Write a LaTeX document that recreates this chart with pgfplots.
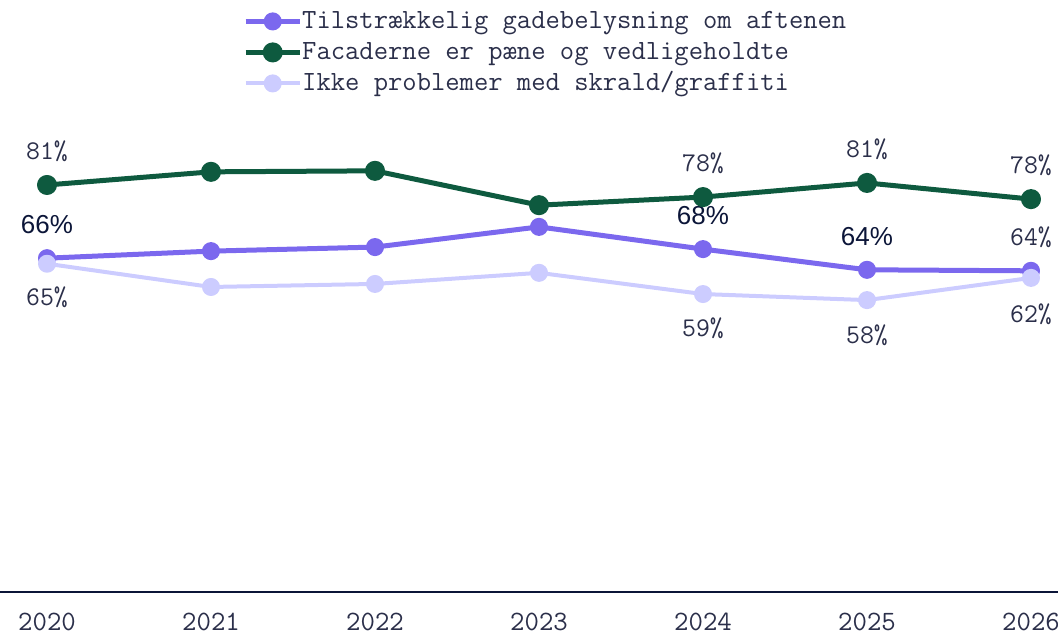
\documentclass[border=0pt]{standalone}
\usepackage{fontspec}
\usepackage{pgfplots}
\pgfplotsset{compat=1.18}
\newfontfamily\sansfont{Liberation Sans}
\definecolor{cpurple}{HTML}{7B68EE}
\definecolor{cgreen}{HTML}{0E5A3F}
\definecolor{clight}{HTML}{CCCCFF}
\definecolor{ctext}{HTML}{2B2F4A}
\definecolor{cnavy}{HTML}{0B1538}
\newcommand\mono{\ttfamily\fontsize{27}{27}\selectfont}
\newcommand\legfont{\ttfamily\fontsize{27.8}{27.8}\selectfont}
\newcommand\ticks{\ttfamily\fontsize{28}{28}\selectfont}
\begin{document}
\begin{tikzpicture}
\begin{axis}[
  at={(0,43pt)}, anchor=south west,
  scale only axis, width=1058pt, height=505pt,
  xmin=2019.7134, xmax=2026.1646, ymin=0, ymax=100,
  axis y line=none, axis x line=bottom,
  x axis line style={-, draw=cnavy, line width=1.2pt},
  xtick={2020,2021,2022,2023,2024,2025,2026},
  xticklabels={2020,2021,2022,2023,2024,2025,2026},
  major tick length=0pt,
  xticklabel style={font=\ticks, text=ctext, anchor=base, yshift=-38pt},
  clip=false,
  legend style={at={(0.2297,1.156)}, anchor=north west, draw=none, fill=none,
    font=\legfont, text=ctext, row sep=5pt, inner sep=0pt,
    nodes={inner sep=0pt, text height=20pt, text depth=6pt, anchor=west}},
  legend cell align=left,
  /tikz/every even column/.append style={column sep=3pt},
  legend image code/.code={\draw[mark repeat=2, mark phase=2] plot coordinates {(0pt,0pt) (27pt,0pt) (54pt,0pt)};},
  line join=round,
]
\addplot[cpurple, line width=5pt, mark=*, mark size=6.5pt, mark options={solid}]
  coordinates {(2020,66.1) (2021,67.5) (2022,68.3) (2023,72.3) (2024,67.9) (2025,63.8) (2026,63.6)};
\addlegendentry{Tilstrækkelig gadebelysning om aftenen}
\addplot[cgreen, line width=5pt, mark=*, mark size=7.5pt, mark options={solid}]
  coordinates {(2020,80.6) (2021,83.2) (2022,83.4) (2023,76.6) (2024,78.2) (2025,81.0) (2026,77.8)};
\addlegendentry{Facaderne er pæne og vedligeholdte}
\addplot[clight, line width=4pt, mark=*, mark size=7pt, mark options={solid}]
  coordinates {(2020,65.0) (2021,60.4) (2022,61.0) (2023,63.2) (2024,59.0) (2025,57.8) (2026,62.2)};
\addlegendentry{Ikke problemer med skrald/graffiti}

% green labels (above)
\node[font=\mono, text=ctext, yshift=33.5pt] at (axis cs:2020,80.6) {81\%};
\node[font=\mono, text=ctext, yshift=33.5pt] at (axis cs:2024,78.2) {78\%};
\node[font=\mono, text=ctext, yshift=33.5pt] at (axis cs:2025,81.0) {81\%};
\node[font=\mono, text=ctext, yshift=33.5pt] at (axis cs:2026,77.8) {78\%};
% purple labels (above)
\node[font=\sansfont\fontsize{26}{26}\selectfont, text=cnavy, yshift=33.5pt] at (axis cs:2020,66.1) {66\%};
\node[font=\sansfont\fontsize{26}{26}\selectfont, text=cnavy, yshift=33.5pt] at (axis cs:2024,67.9) {68\%};
\node[font=\sansfont\fontsize{26}{26}\selectfont, text=cnavy, yshift=33.5pt] at (axis cs:2025,63.8) {64\%};
\node[font=\mono, text=ctext, yshift=33.5pt] at (axis cs:2026,63.6) {64\%};
% light labels (below)
\node[font=\mono, text=ctext, yshift=-34pt] at (axis cs:2020,65.0) {65\%};
\node[font=\mono, text=ctext, yshift=-34pt] at (axis cs:2024,59.0) {59\%};
\node[font=\mono, text=ctext, yshift=-35pt] at (axis cs:2025,57.8) {58\%};
\node[font=\mono, text=ctext, yshift=-36pt] at (axis cs:2026,62.2) {62\%};
\end{axis}
\pgfresetboundingbox
\useasboundingbox (0,0) rectangle (1058pt,635pt);
\end{tikzpicture}
\end{document}
